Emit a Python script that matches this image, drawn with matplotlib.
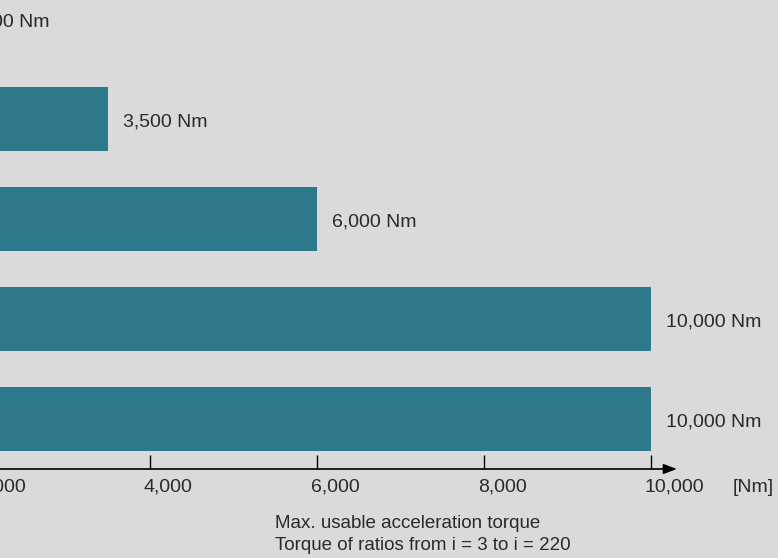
import matplotlib
matplotlib.use("Agg")
import matplotlib.pyplot as plt

# valores (Nm)
torques = [1600, 3500, 6000, 10000, 10000]
labels_valores = ["1,600 Nm", "3,500 Nm", "6,000 Nm", "10,000 Nm", "10,000 Nm"]
ticks = [0, 2000, 4000, 6000, 8000, 10000]
tick_labels = ["0", "2,000", "4,000", "6,000", "8,000", "10,000"]
legenda = ["Max. usable acceleration torque", "Torque of ratios from i = 3 to i = 220"]

fundo = "#dadada"
cor_barra = "#2d788b"
cor_texto = "#2a2a2a"
plt.rcParams["font.family"] = ["Liberation Sans", "DejaVu Sans"]

fig = plt.figure(figsize=(7.78, 5.58), dpi=100)
fig.patch.set_facecolor(fundo)

# o gráfico original está cortado à esquerda, por isso o eixo começa fora da figura
ax = fig.add_axes([-184 / 778, 89 / 558, 868.4 / 778, 469 / 558])
ax.set_facecolor(fundo)
ax.set_xlim(0, 10400)
ax.set_ylim(4.5, -0.19)

pos = range(len(torques))
ax.barh(list(pos), torques, height=0.64, color=cor_barra)

for i, (v, txt) in enumerate(zip(torques, labels_valores)):
    ax.annotate(txt, (v, i), xytext=(15, -3), textcoords="offset pixels",
                ha="left", va="center", fontsize=14, color=cor_texto)

for s in ax.spines.values():
    s.set_visible(False)

# eixo x com seta
ax.annotate("", xy=(10311, 4.5), xytext=(0, 4.5),
            arrowprops=dict(arrowstyle="-|>,head_length=0.8,head_width=0.3",
                            color="black", lw=1.2, shrinkA=0, shrinkB=0),
            annotation_clip=False)

ax.set_xticks(ticks)
ax.set_xticklabels([])
ax.tick_params(axis="x", direction="in", length=10, width=1, color="black")
ax.set_yticks([])

for t, lab in zip(ticks, tick_labels):
    ax.annotate(lab, (t, 4.5), xytext=(-6, -18), textcoords="offset pixels",
                ha="left", va="center", fontsize=14, color=cor_texto,
                annotation_clip=False)

fig.text(733 / 778, 1 - 487 / 558, "[Nm]", ha="left", va="center",
         fontsize=14, color=cor_texto)
fig.text(275 / 778, 1 - 524 / 558, legenda[0], ha="left", va="center",
         fontsize=13.5, color=cor_texto)
fig.text(275 / 778, 1 - 546 / 558, legenda[1], ha="left", va="center",
         fontsize=13.5, color=cor_texto)

fig.savefig("out.png", dpi=100, facecolor=fundo)
